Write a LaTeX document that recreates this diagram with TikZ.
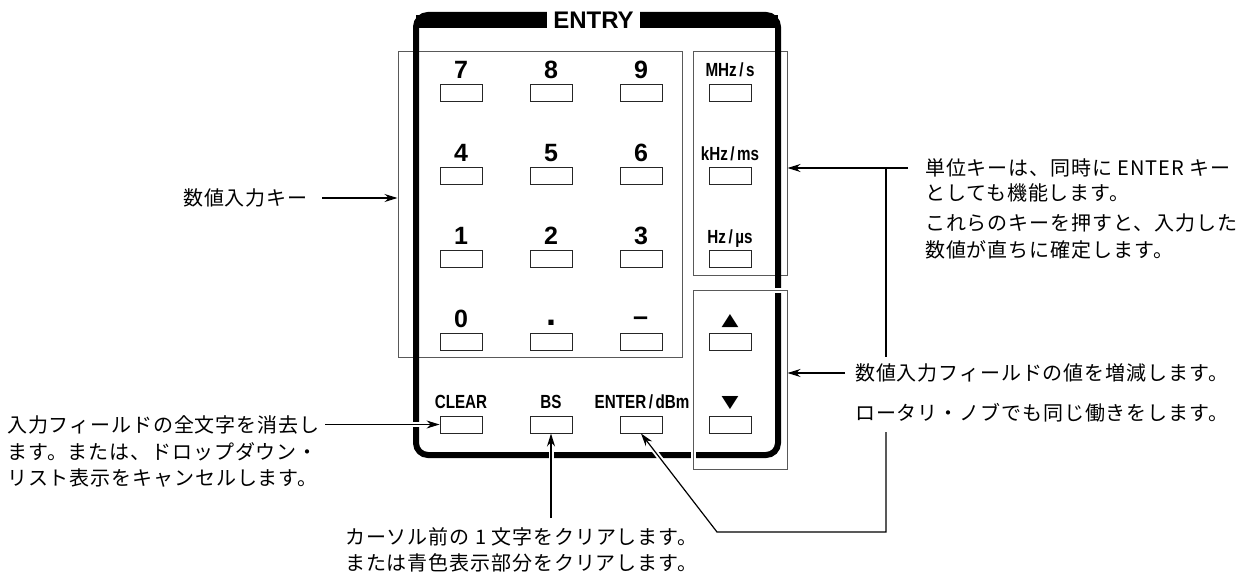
\documentclass[tikz,border=0pt]{standalone}
\usepackage{fontspec}
\setmainfont{Liberation Sans}
\newfontfamily\jp[LetterSpace=4.5]{Noto Sans CJK JP}
\newfontfamily\sym{DejaVu Sans}
\usetikzlibrary{arrows.meta}
\tikzset{
  key/.style={draw=black!85, line width=0.9pt, minimum width=42pt, minimum height=17pt, inner sep=0pt},
  grp/.style={draw=black!65, line width=1pt, inner sep=0pt},
  num/.style={font=\fontsize{25}{25}\selectfont\bfseries, anchor=base, inner sep=0pt},
  lab/.style={font=\fontsize{19}{19}\selectfont\bfseries, anchor=base, inner sep=0pt},
  tri/.style={font=\sym\fontsize{22}{22}\selectfont, anchor=base, inner sep=0pt},
  jt/.style={font=\jp\fontsize{20}{20}\selectfont, anchor=base west, inner sep=0pt},
  conn/.style={line width=1.2pt},
  arr/.style={conn, -{Stealth[length=13pt,width=8pt]}},
  halo/.style={preaction={draw=white, line width=5pt, -, shorten >=10pt}},
}
\newcommand{\cond}[1]{\scalebox{0.8}[1]{#1}}
\begin{document}
\begin{tikzpicture}[x=1pt,y=-1pt]
\useasboundingbox (0,0) rectangle (1246,578);
% group boxes behind frame
\node[grp, minimum width=284pt, minimum height=305pt] (nbox) at (540,204.5) {};
\node[grp, minimum width=94pt, minimum height=223pt] (ubox) at (740,163.5) {};
% frame
\draw[line width=6pt, rounded corners=12pt] (416,15) rectangle (778,455);
\fill (416,15) rectangle (778,28);
\fill[white] (547,8) rectangle (640,31);
\node[font=\fontsize{24}{24}\selectfont\bfseries, anchor=base, inner sep=0pt] (entry) at (593.5,29) {ENTRY};
% arrow key box over frame
\node[grp, minimum width=94pt, minimum height=179pt, preaction={draw=white, line width=5pt}] (abox) at (740,379.5) {};
% keys
\node[key] (k7) at (461,92.5) {};
\node[key] (k8) at (551,92.5) {};
\node[key] (k9) at (641,92.5) {};
\node[key] (kmhz) at (730,92.5) {};
\node[key] (k4) at (461,175.5) {};
\node[key] (k5) at (551,175.5) {};
\node[key] (k6) at (641,175.5) {};
\node[key] (kkhz) at (730,175.5) {};
\node[key] (k1) at (461,258.5) {};
\node[key] (k2) at (551,258.5) {};
\node[key] (k3) at (641,258.5) {};
\node[key] (khz) at (730,258.5) {};
\node[key] (k0) at (461,342) {};
\node[key] (kdot) at (551,342) {};
\node[key] (kmin) at (641,342) {};
\node[key] (kup) at (730,342) {};
\node[key] (kclr) at (461,424.5) {};
\node[key] (kbs) at (551,424.5) {};
\node[key] (kent) at (641,424.5) {};
\node[key] (kdn) at (730,424.5) {};
% key labels
\node[num] (l7) at (461,78) {7};
\node[num] (l8) at (551,78) {8};
\node[num] (l9) at (641,78) {9};
\node[num] (l4) at (461,161) {4};
\node[num] (l5) at (551,161) {5};
\node[num] (l6) at (641,161) {6};
\node[num] (l1) at (461,244) {1};
\node[num] (l2) at (551,244) {2};
\node[num] (l3) at (641,244) {3};
\node[num] (l0) at (461,327) {0};
\node[num, font=\fontsize{36}{36}\selectfont\bfseries] (ldot) at (551,325.5) {.};
\node[num, font=\fontsize{27}{27}\selectfont\bfseries] (lmin) at (640.5,325.5) {–};
\node[lab] (lmhz) at (730,77) {\cond{MHz\,/\,s}};
\node[lab] (lkhz) at (730,160) {\cond{kHz\,/\,ms}};
\node[lab] (lhz) at (730,243) {\cond{Hz\,/\,µs}};
\node[tri] (lup) at (730,325) {\scalebox{1}[0.78]{▲}};
\node[tri] (ldn) at (730,407) {\scalebox{1}[0.78]{▼}};
\node[lab] (lclr) at (461,408) {\cond{CLEAR}};
\node[lab] (lbs) at (551,408) {\cond{BS}};
\node[lab] (lent) at (642,408) {\cond{ENTER\,/\,dBm}};
% texts
\node[jt] (t1) at (183,205) {数値入力キー};
\node[jt] (t2a) at (7,432) {入力フィールドの全文字を消去し};
\node[jt] (t2b) at (7,459) {ます。または、ドロップダウン・};
\node[jt] (t2c) at (7,485) {リスト表示をキャンセルします。};
\node[jt] (t3a) at (345,544) {カーソル前の 1 文字をクリアします。};
\node[jt] (t3b) at (345,570) {または青色表示部分をクリアします。};
\node[jt] (t5a) at (925,175) {単位キーは、同時に ENTER キー};
\node[jt] (t5b) at (925,200) {としても機能します。};
\node[jt] (t5c) at (925,230) {これらのキーを押すと、入力した};
\node[jt] (t5d) at (925,257) {数値が直ちに確定します。};
\node[jt] (t6a) at (855,380) {数値入力フィールドの値を増減します。};
\node[jt] (t6b) at (855,420) {ロータリ・ノブでも同じ働きをします。};
% connectors
\coordinate (s1) at (322,198);
\coordinate (s2) at (325,424.5);
\coordinate (s3) at (551,518);
\coordinate (s5) at (908,168);
\coordinate (s6) at (845,373);
\coordinate (e1) at (717,532);
\coordinate (e2) at (886,532);
\coordinate (e3) at (886,168);
\coordinate (g1) at (886,357);
\coordinate (g2) at (886,432);
\draw[arr] (s1) -- (nbox.west |- s1);
\draw[arr, halo] (s2) -- (kclr.west);
\draw[arr, halo, line width=1.8pt] (s3) -- (kbs.south);
\draw[arr] (s5) -- (ubox.east |- s5);
\draw[arr] (s6) -- (abox.east |- s6);
\draw[conn] (e3) -- (g1);
\draw[arr, halo] (g2) -- (e2) -- (e1) -- (kent.south);
\end{tikzpicture}
\end{document}
